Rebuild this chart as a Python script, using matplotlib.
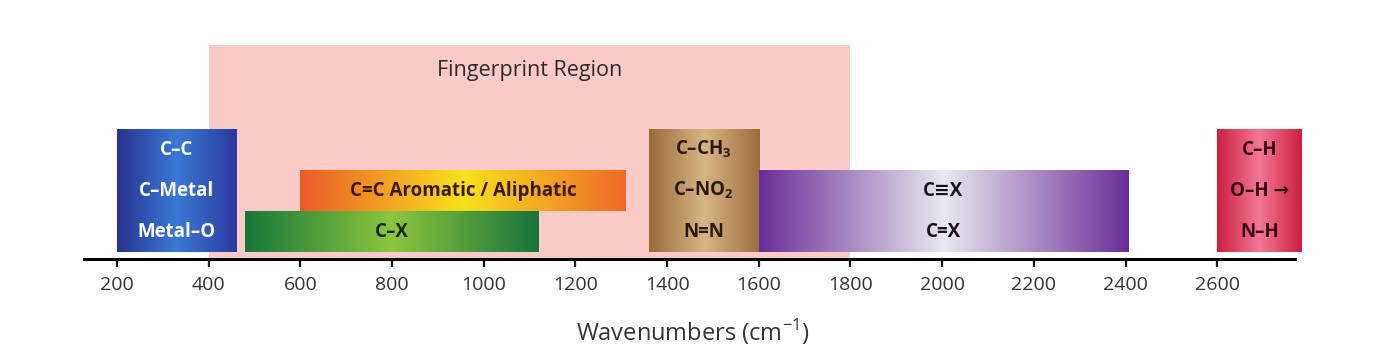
import matplotlib
matplotlib.use("Agg")
import matplotlib.pyplot as plt
import numpy as np
from matplotlib.colors import LinearSegmentedColormap

plt.rcParams["font.family"] = ["Open Sans", "DejaVu Sans"]
plt.rcParams["mathtext.fontset"] = "custom"
plt.rcParams["mathtext.rm"] = "Open Sans"
plt.rcParams["mathtext.bf"] = "Open Sans:bold"

# fingerprint region (cm-1)
fp_start, fp_end = 400, 1800

# bands: x range in cm-1, row range (0 = bottom row, 3 = top)
band_names = ["blue", "orange", "green", "brown", "purple", "red"]
band_start = [200, 600, 480, 1360, 1600, 2600]
band_end = [460, 1310, 1120, 1600, 2405, 2785]
row_lo = [0, 1, 0, 0, 0, 0]
row_hi = [3, 2, 1, 3, 2, 3]
band_text = [
    ["Metal–O", "C–Metal", "C–C"],
    ["C=C Aromatic / Aliphatic"],
    ["C–X"],
    ["N=N", r"C–NO$_\mathbf{2}$", r"C–CH$_\mathbf{3}$"],
    ["C=X", "C≡X"],
    ["N–H", "O–H →", "C–H"],
]
text_color = ["white", "#3a1a10", "#14240e", "#2a1a0e", "#1a1020", "#3a0812"]
gradients = [
    ["#26338f", "#3b78d6", "#2b3a9e"],
    ["#ec5a2a", "#f8e21e", "#ef6a28"],
    ["#167838", "#8dc63f", "#17743a"],
    ["#9a6a3c", "#d8b684", "#9c6c3e"],
    ["#6a2e98", "#e9e8ee", "#6a2e98"],
    ["#cc1f3e", "#f27896", "#cc1f3e"],
]

ticks = [200, 400, 600, 800, 1000, 1200, 1400, 1600, 1800, 2000, 2200, 2400, 2600]

GAP = 0.17

fig = plt.figure(figsize=(13.92, 3.6), dpi=100)
ax = fig.add_axes([84 / 1392, 101 / 360, 1218 / 1392, 239 / 360])

# fingerprint region
ax.axvspan(fp_start, fp_end, ymin=0, ymax=214 / 239, color="#fdcaca", lw=0, zorder=0)
ax.text((fp_start + fp_end) / 2, 4.6, "Fingerprint Region", ha="center", va="center",
        fontsize=15.5, color="#2e2a2a")

grad = np.linspace(0, 1, 256).reshape(1, -1)
for i, name in enumerate(band_names):
    cmap = LinearSegmentedColormap.from_list(name, gradients[i])
    y0 = row_lo[i] + GAP
    y1 = row_hi[i] + GAP
    ax.imshow(grad, cmap=cmap, aspect="auto", extent=(band_start[i], band_end[i], y0, y1),
              zorder=2, clip_on=False, interpolation="bilinear")
    xc = (band_start[i] + band_end[i]) / 2
    for k, t in enumerate(band_text[i]):
        ax.text(xc, row_lo[i] + GAP + 0.5 + k, t, ha="center", va="center",
                fontsize=13.5, fontweight="bold", color=text_color[i], zorder=3)

ax.set_xlim(128, 2785)
ax.set_ylim(0, 239 / 41)

for s in ["top", "right", "left"]:
    ax.spines[s].set_visible(False)
ax.spines["bottom"].set_linewidth(2.2)
ax.spines["bottom"].set_bounds(128, 2770)
ax.spines["bottom"].set_zorder(4)
ax.set_yticks([])
ax.set_xticks(ticks)
ax.tick_params(axis="x", direction="out", length=6, width=1.6, labelsize=14,
               colors="#111111", labelcolor="#333333", pad=6)
ax.set_xlabel("Wavenumbers (cm$^{-1}$)", fontsize=17, color="#333333", labelpad=17)

fig.savefig("out.png", dpi=100)
